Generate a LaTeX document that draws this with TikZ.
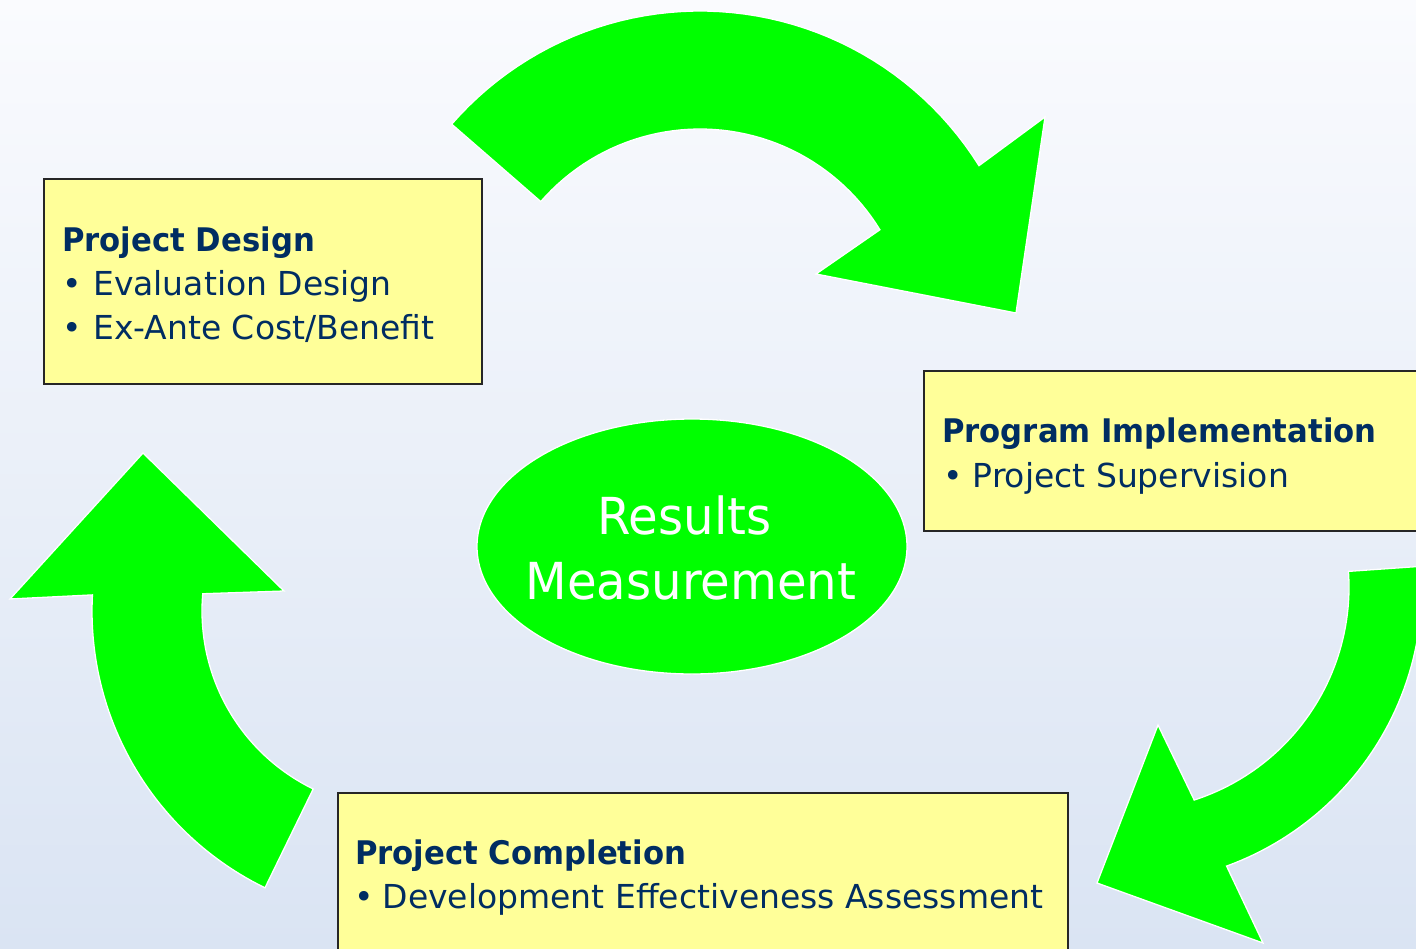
\documentclass[tikz,border=0pt]{standalone}
\usepackage{fontspec}
\setmainfont{DejaVu Sans}
\newfontfamily\hdfam{DejaVu Sans}[FakeStretch=0.945]
\usetikzlibrary{shapes.geometric}
\definecolor{navy}{RGB}{0,45,98}
\definecolor{boxyellow}{RGB}{255,255,153}
\definecolor{arrowgreen}{RGB}{0,255,0}
\definecolor{bgtop}{RGB}{250,251,254}
\definecolor{bgbottom}{RGB}{218,228,243}
\begin{document}
\begin{tikzpicture}[x=1pt,y=-1pt,
  boxstyle/.style={draw=black!85, line width=1.5pt, fill=boxyellow, inner sep=0pt},
  bodytxt/.style={anchor=base west, inner sep=0pt, text=navy, font=\fontsize{33pt}{40pt}\selectfont},
  headtxt/.style={anchor=base west, inner sep=0pt, text=navy, font=\hdfam\bfseries\fontsize{32.5pt}{40pt}\selectfont},
  bigtxt/.style={anchor=base, inner sep=0pt, text=white, font=\hdfam\fontsize{51pt}{60pt}\selectfont},
  greenshape/.style={fill=arrowgreen, draw=white, line width=1.3pt, line join=miter}]
\useasboundingbox (0,0) rectangle (1416,948);
\clip (0,0) rectangle (1416,948);
\shade[top color=bgtop, bottom color=bgbottom] (0,0) rectangle (1416,948);

% top curved arrow
\path[greenshape] plot[domain=-139:-32,samples=50] ({700+329*cos(\x)},{340+329*sin(\x)})
  -- (1045,117) -- (1016,313) -- (816,274)
  -- plot[domain=-31.5:-139,samples=50] ({700+211*cos(\x)},{340+211*sin(\x)}) -- cycle;

% right curved arrow
\path[greenshape] plot[domain=-4:70,samples=50] ({1125+297*cos(\x)},{587+297*sin(\x)})
  -- (1263,943) -- (1097,883) -- (1158,725)
  -- plot[domain=72:-4,samples=50] ({1125+224*cos(\x)},{587+224*sin(\x)}) -- cycle;

% left curved arrow
\path[greenshape] plot[domain=116:183,samples=50] ({400+308*cos(\x)},{611+308*sin(\x)})
  -- (10,599) -- (143,453) -- (284,591)
  -- plot[domain=185:116,samples=50] ({400+198*cos(\x)},{611+198*sin(\x)}) -- cycle;

% boxes
\node[boxstyle, minimum width=438pt, minimum height=205pt] (pd) at (263,281.5) {};
\node[boxstyle, minimum width=506pt, minimum height=160pt] (pi) at (1177,451) {};
\node[boxstyle, minimum width=730pt, minimum height=167pt] (pc) at (703,876.5) {};

% centre ellipse
\node[ellipse, fill=arrowgreen, draw=white, line width=1.3pt, minimum width=430pt, minimum height=255pt, inner sep=0pt] (rm) at (692,546.5) {};
\node[bigtxt] (rmA) at (684.5,534) {Results};
\node[bigtxt] (rmB) at (691,599) {Measurement};

% texts
\node[headtxt] (pdT) at (62,251) {Project Design};
\node[bodytxt] (pd1) at (62.5,295) {\makebox[30.5pt][l]{•}Evaluation Design};
\node[bodytxt] (pd2) at (62.5,339) {\makebox[30.5pt][l]{•}Ex-Ante Cost/Benefit};

\node[headtxt] (piT) at (942,442) {Program Implementation};
\node[bodytxt] (pi1) at (943,487) {\makebox[29.5pt][l]{•}Project Supervision};

\node[headtxt] (pcT) at (355,864) {Project Completion};
\node[bodytxt] (pc1) at (354.5,908) {\makebox[28pt][l]{•}Development Effectiveness Assessment};
\end{tikzpicture}
\end{document}
